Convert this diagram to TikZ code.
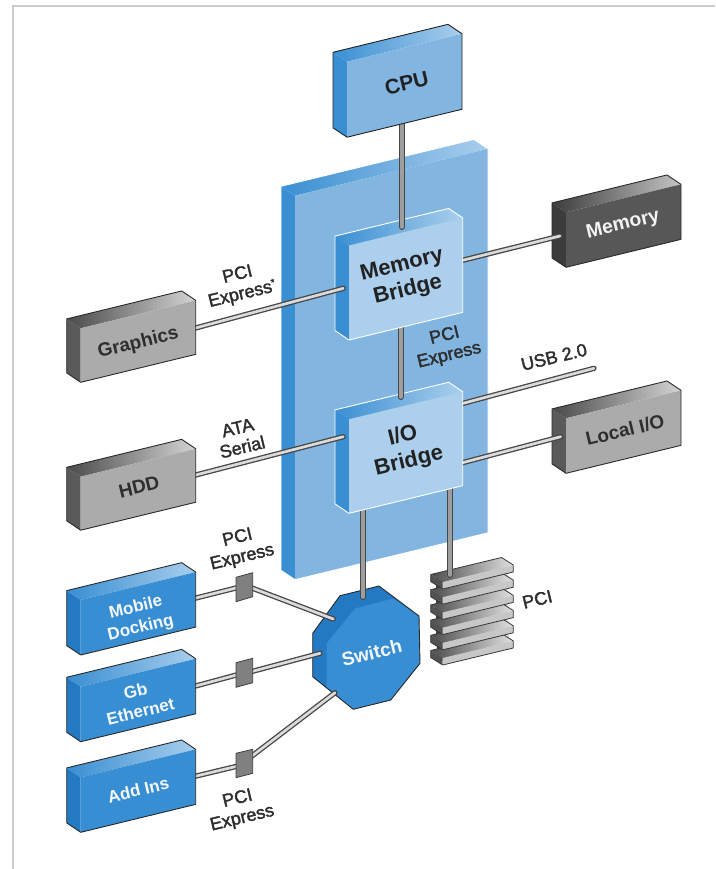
\documentclass[tikz,border=0pt]{standalone}
\usepackage{fontspec}
\setmainfont{Liberation Sans}
\newfontfamily\medfont[FakeBold=2]{Liberation Sans}
\usetikzlibrary{calc}
% kinds of box: side, front, top-left, top-right, outline, label
\definecolor{cpuside}{HTML}{3A8FD3}\definecolor{cpufront}{HTML}{82B6E1}\definecolor{cputopl}{HTML}{3A8FD3}\definecolor{cputopr}{HTML}{A9CEEC}\definecolor{cpuline}{HTML}{222222}\definecolor{cputext}{HTML}{222222}
\definecolor{panelside}{HTML}{3A8FD3}\definecolor{panelfront}{HTML}{82B6E1}\definecolor{paneltopl}{HTML}{3A8FD3}\definecolor{paneltopr}{HTML}{A9CEEC}\definecolor{panelline}{HTML}{FFFFFF}\definecolor{paneltext}{HTML}{222222}
\definecolor{bridgeside}{HTML}{3A8FD3}\definecolor{bridgefront}{HTML}{ABCFEC}\definecolor{bridgetopl}{HTML}{3A8FD3}\definecolor{bridgetopr}{HTML}{ABCFEC}\definecolor{bridgeline}{HTML}{FFFFFF}\definecolor{bridgetext}{HTML}{222222}
\definecolor{grayboxside}{HTML}{5A5A5A}\definecolor{grayboxfront}{HTML}{ABABAB}\definecolor{grayboxtopl}{HTML}{4A4A4A}\definecolor{grayboxtopr}{HTML}{D4D4D4}\definecolor{grayboxline}{HTML}{2A2A2A}\definecolor{grayboxtext}{HTML}{2E2E2E}
\definecolor{darkboxside}{HTML}{3C3C3C}\definecolor{darkboxfront}{HTML}{575757}\definecolor{darkboxtopl}{HTML}{3C3C3C}\definecolor{darkboxtopr}{HTML}{C4C4C4}\definecolor{darkboxline}{HTML}{2A2A2A}\definecolor{darkboxtext}{HTML}{F2F2F2}
\definecolor{blueboxside}{HTML}{2379C2}\definecolor{blueboxfront}{HTML}{388ED2}\definecolor{blueboxtopl}{HTML}{388ED2}\definecolor{blueboxtopr}{HTML}{A9CEEC}\definecolor{blueboxline}{HTML}{2A2A2A}\definecolor{blueboxtext}{HTML}{F4F8FC}
\tikzset{
  conn/.style={draw=black!72, line width=1.3pt, double=black!14, double distance=2.7pt, line cap=round},
  vconn/.style={draw=black!72, line width=1.2pt, double=black!38, double distance=3.6pt, line cap=round},
  lab/.style={rotate=13.5, align=center, inner sep=0pt, text=black!82},
  small/.style={font=\fontsize{18}{20}\medfont},
  joint/.style={fill=black!50, draw=black!75, line width=.8pt, line join=round},
}
\newcommand{\boxfont}{}
% name, x, y, w, h, kind, text x, text y, text (font set by \boxfont)
\newcommand{\isobox}[9]{%
  \pgfmathsetmacro{\rx}{#2+#4}%
  \pgfmathsetmacro{\ry}{#3-0.243*#4}%
  \pgfmathsetmacro{\rb}{\ry+#5}%
  \pgfmathsetmacro{\lb}{#3+#5}%
  \pgfmathsetmacro{\ox}{#2-14}%
  \pgfmathsetmacro{\oy}{#3-9.4}%
  \pgfmathsetmacro{\oby}{\lb-9.4}%
  \pgfmathsetmacro{\bx}{\rx-14}%
  \pgfmathsetmacro{\by}{\ry-9.4}%
  \fill[#6side] (\ox,\oy) -- (#2,#3) -- (#2,\lb) -- (\ox,\oby) -- cycle;
  \shade[left color=#6topl, right color=#6topr] (\ox,\oy) -- (\bx,\by) -- (\rx,\ry) -- (#2,#3) -- cycle;
  \fill[#6front] (#2,#3) -- (\rx,\ry) -- (\rx,\rb) -- (#2,\lb) -- cycle;
  \draw[#6line, line width=.9pt, line join=round] (\ox,\oy) -- (\bx,\by) -- (\rx,\ry) -- (\rx,\rb) -- (#2,\lb) -- (\ox,\oby) -- cycle;
  \node[lab, text=#6text, font=\boxfont] (#1) at (#7,#8) {#9};
}
% one slat of the PCI stack: x-left y-top
\newcommand{\slat}[2]{%
  \pgfmathsetmacro{\sy}{#2}%
  \pgfmathsetmacro{\sby}{#2+7}%
  \pgfmathsetmacro{\sry}{#2-17}%
  \pgfmathsetmacro{\srby}{#2-10}%
  \fill[black!68] (430.7,\sy-7.5) -- (#1,\sy) -- (#1,\sby) -- (430.7,\sby-7.5) -- cycle;
  \shade[left color=black!70, right color=black!12] (430.7,\sy-7.5) -- (501.5,\sry-7.5) -- (513.3,\sry) -- (#1,\sy) -- cycle;
  \fill[black!22] (#1,\sy) -- (513.3,\sry) -- (513.3,\srby) -- (#1,\sby) -- cycle;
  \draw[black!78, line width=.8pt, line join=round] (430.7,\sy-7.5) -- (501.5,\sry-7.5) -- (513.3,\sry) -- (513.3,\srby) -- (#1,\sby) -- (430.7,\sby-7.5) -- cycle;
}
\begin{document}
\begin{tikzpicture}[x=1pt,y=-1pt]
\useasboundingbox (0,0) rectangle (715,869);
% page frame
\draw[black!20, line width=2pt] (12.5,869) -- (12.5,6) -- (715,6);
% connector end points
\coordinate (cpu-s) at (401.7,118);  \coordinate (mb-n) at (401.7,227);
\coordinate (gfx-e) at (190,329.5);  \coordinate (mb-w) at (343.3,288.3);
\coordinate (mb-e) at (455,262.2);   \coordinate (mem-w) at (560,236);
\coordinate (mb-s) at (400.7,320);   \coordinate (io-n) at (400.7,397);
\coordinate (hdd-e) at (190,476.5);  \coordinate (io-w) at (343.3,436.7);
\coordinate (io-ne) at (455,405.5);  \coordinate (usb-end) at (594,368.3);
\coordinate (io-e) at (455,464.7);   \coordinate (lio-w) at (560.7,436.7);
\coordinate (io-s) at (363,505);     \coordinate (sw-n) at (363,597);
\coordinate (io-se) at (450,480);    \coordinate (pci-n) at (450,575);
\coordinate (md-e) at (190,599.5);   \coordinate (j1-w) at (240,587);
\coordinate (j1-e) at (248,586.5);   \coordinate (sw-nw) at (333.3,619);
\coordinate (gb-e) at (190,687.5);   \coordinate (j2-w) at (240,674);
\coordinate (j2-e) at (248,672.5);   \coordinate (sw-w) at (320,653.3);
\coordinate (ai-e) at (190,777.5);   \coordinate (j3-w) at (240,765.5);
\coordinate (j3-e) at (248,759);     \coordinate (sw-sw) at (335,692.7);
% back panel
\renewcommand{\boxfont}{\fontsize{19}{24}\selectfont\bfseries}
\isobox{panel}{295}{195.7}{193}{384}{panel}{391}{340}{}
% far boxes
\renewcommand{\boxfont}{\fontsize{19.5}{24}\selectfont\bfseries}
\isobox{memory}{566}{212.3}{115}{55}{darkbox}{623}{225}{Memory}
\renewcommand{\boxfont}{\fontsize{19}{24}\selectfont\bfseries}
\isobox{localio}{566}{418.3}{115}{55}{graybox}{625}{430}{Local I/O}
% switch
\fill[blueboxside] (340,595.7) -- (379,586) -- (419,616) -- (420,663.3) -- (390.7,700) -- (353.3,709.3) -- (312.7,676.7) -- (312.7,633.3) -- cycle;
\fill[blueboxfront] (326.5,643.5) -- (355,608.5) -- (393,598.5) -- (419,616) -- (420,663.3) -- (390.7,700) -- (353.3,709.3) -- (326.5,687.5) -- cycle;
\draw[blueboxline, line width=.9pt, line join=round] (340,595.7) -- (379,586) -- (419,616) -- (420,663.3) -- (390.7,700) -- (353.3,709.3) -- (312.7,676.7) -- (312.7,633.3) -- cycle;
\node[lab, text=blueboxtext, font=\fontsize{19}{24}\selectfont\bfseries] (switch) at (371.7,652.7) {Switch};
% PCI stack: solid core behind the slats
\shade[left color=black!75, right color=black!12] (436,578) -- (507,561) -- (509,646) -- (437,662) -- cycle;
\slat{442.7}{658}
\slat{442.7}{642.8}
\slat{442.7}{627.6}
\slat{442.7}{612.4}
\slat{442.7}{597.2}
\slat{442.7}{582}
% connectors into far boxes
\draw[conn] (mb-e) -- (mem-w);
\draw[conn] (io-ne) -- (usb-end);
\draw[conn] (io-e) -- (lio-w);
\draw[vconn] (io-s) -- (sw-n);
\draw[vconn] (io-se) -- (pci-n);
% I/O bridge
\renewcommand{\boxfont}{\fontsize{22}{26}\selectfont\bfseries}
\isobox{iobridge}{349}{419.3}{113.7}{94}{bridge}{406}{449}{I/O\\Bridge}
\draw[vconn] (mb-s) -- (io-n);
\draw[conn] (hdd-e) -- (io-w);
% memory bridge
\isobox{membridge}{349}{245.5}{113.7}{94.5}{bridge}{405}{278}{Memory\\Bridge}
\draw[conn] (gfx-e) -- (mb-w);
\draw[vconn] (cpu-s) -- (mb-n);
% near boxes
\renewcommand{\boxfont}{\fontsize{21}{25}\selectfont\bfseries}
\isobox{cpu}{347}{61.7}{115}{75.5}{cpu}{406.7}{83}{CPU}
\renewcommand{\boxfont}{\fontsize{19}{24}\selectfont\bfseries}
\isobox{graphics}{80.7}{328.3}{115}{54}{graybox}{138.3}{343.3}{Graphics}
\isobox{hdd}{80.7}{476.7}{115}{53.5}{graybox}{139}{487}{HDD}
% switch-side connectors
\draw[conn] (md-e) -- (j1-w);
\draw[conn] (j1-e) -- (sw-nw);
\draw[conn] (gb-e) -- (j2-w);
\draw[conn] (j2-e) -- (sw-w);
\draw[conn] (ai-e) -- (j3-w);
\draw[conn] (j3-e) -- (sw-sw);
\draw[joint] (236,577.3) -- (252.7,572.7) -- (252.7,596.7) -- (236,601.7) -- cycle;
\draw[joint] (236,662.7) -- (252.7,658.3) -- (252.7,682.7) -- (236,687.3) -- cycle;
\draw[joint] (236,753.3) -- (252.7,749.3) -- (252.7,773.3) -- (236,777.7) -- cycle;
\renewcommand{\boxfont}{\fontsize{17}{21}\selectfont\bfseries}
\isobox{mobile}{80.7}{600}{115}{55}{bluebox}{138.3}{618}{Mobile\\Docking}
\isobox{gbe}{80.7}{686.7}{115}{55}{bluebox}{138}{701}{Gb\\Ethernet}
\isobox{addins}{80.7}{777.3}{115}{55}{bluebox}{138.3}{790}{Add Ins}
% connector labels
\node[lab, small] (l1) at (240,285) {PCI\\Express\raisebox{6pt}{\fontsize{10}{10}\selectfont *}};
\node[lab, small] (l2) at (240,437.5) {ATA\\Serial};
\node[lab, small] (l3) at (240,548) {PCI\\Express};
\node[lab, small] (l4) at (240,809) {PCI\\Express};
\node[lab, small] (l5) at (447,346) {PCI\\Express};
\node[lab, small] (l6) at (554,357) {USB 2.0};
\node[lab, small] (l7) at (537.3,599.3) {PCI};
\end{tikzpicture}
\end{document}
